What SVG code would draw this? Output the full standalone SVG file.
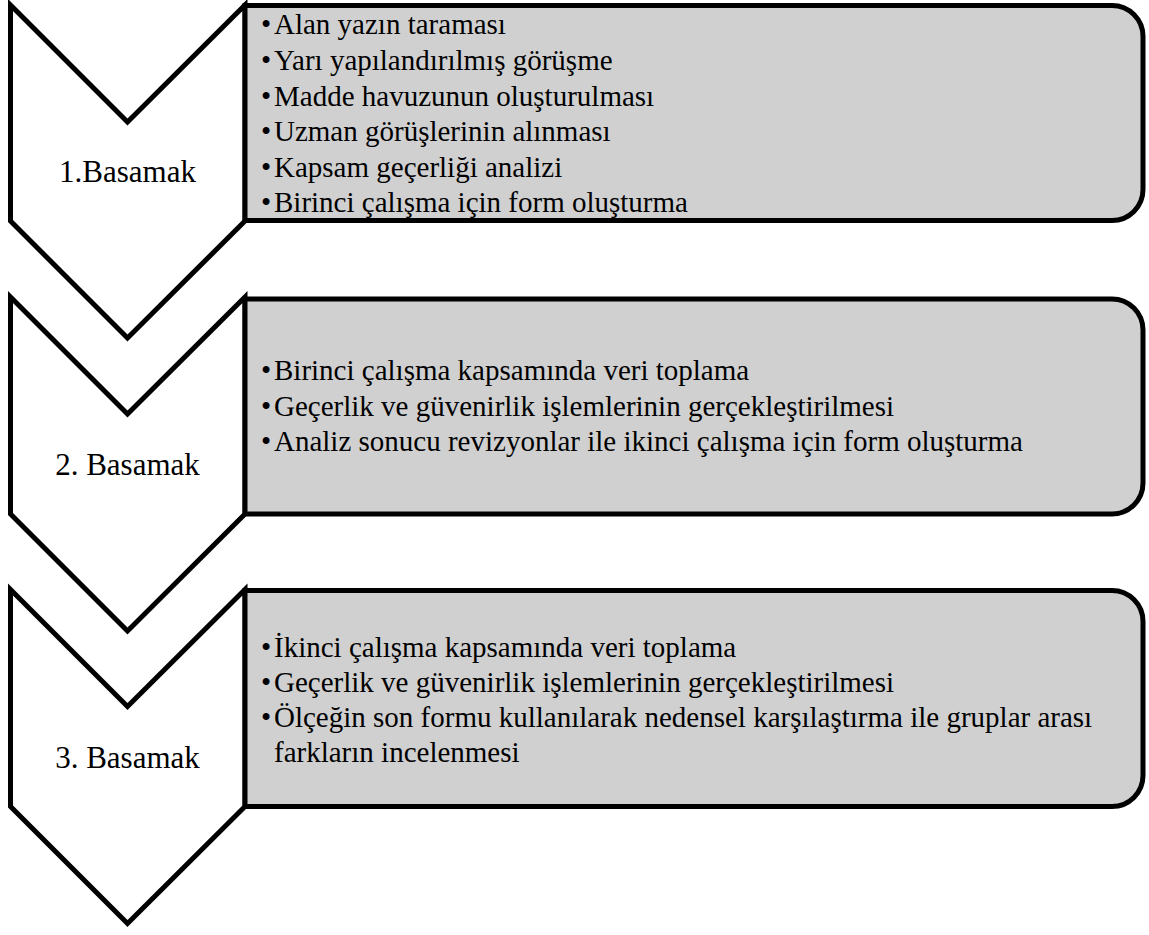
<svg xmlns="http://www.w3.org/2000/svg" width="1149" height="935" viewBox="0 0 1149 935">
<style>
.chev{fill:#ffffff;stroke:#000000;stroke-width:5;stroke-linejoin:miter}
.box{fill:#d0d0d0;stroke:#000000;stroke-width:5;stroke-linejoin:miter}
.lbl{font-family:'Liberation Serif','DejaVu Serif',serif;font-size:31px;fill:#000000;text-anchor:middle}
.txt{font-family:'Liberation Serif','DejaVu Serif',serif;font-size:29px;fill:#000000}
</style>
<rect width="1149" height="935" fill="#ffffff"/>
<g id="step1">
<polygon class="chev" points="10.5,5 127.5,122 245,5 245,221 127.5,338 10.5,221"/>
<path class="box" d="M245,5.5 H1112 A31,31 0 0 1 1143,36.5 V189.5 A31,31 0 0 1 1112,220.5 H245 Z"/>
<text class="lbl" x="127.5" y="182">1.Basamak</text>
<text class="txt"><tspan x="261" y="34">•</tspan><tspan x="274" y="34">Alan yazın taraması</tspan></text>
<text class="txt"><tspan x="261" y="70">•</tspan><tspan x="274" y="70">Yarı yapılandırılmış görüşme</tspan></text>
<text class="txt"><tspan x="261" y="106">•</tspan><tspan x="274" y="106">Madde havuzunun oluşturulması</tspan></text>
<text class="txt"><tspan x="261" y="141">•</tspan><tspan x="274" y="141">Uzman görüşlerinin alınması</tspan></text>
<text class="txt"><tspan x="261" y="177">•</tspan><tspan x="274" y="177">Kapsam geçerliği analizi</tspan></text>
<text class="txt"><tspan x="261" y="212">•</tspan><tspan x="274" y="212">Birinci çalışma için form oluşturma</tspan></text>
</g>
<g id="step2">
<polygon class="chev" points="10.5,297 127.5,414 245,297 245,514 127.5,631 10.5,514"/>
<path class="box" d="M245,299 H1112 A31,31 0 0 1 1143,330 V483 A31,31 0 0 1 1112,514 H245 Z"/>
<text class="lbl" x="127.5" y="475">2. Basamak</text>
<text class="txt"><tspan x="261" y="380">•</tspan><tspan x="274" y="380">Birinci çalışma kapsamında veri toplama</tspan></text>
<text class="txt"><tspan x="261" y="416">•</tspan><tspan x="274" y="416">Geçerlik ve güvenirlik işlemlerinin gerçekleştirilmesi</tspan></text>
<text class="txt"><tspan x="261" y="451">•</tspan><tspan x="274" y="451">Analiz sonucu revizyonlar ile ikinci çalışma için form oluşturma</tspan></text>
</g>
<g id="step3">
<polygon class="chev" points="10.5,589.5 127.5,706.5 245,589.5 245,806.5 127.5,923.5 10.5,806.5"/>
<path class="box" d="M245,590.5 H1112 A31,31 0 0 1 1143,621.5 V775.5 A31,31 0 0 1 1112,806.5 H245 Z"/>
<text class="lbl" x="127.5" y="768">3. Basamak</text>
<text class="txt"><tspan x="261" y="657">•</tspan><tspan x="274" y="657">İkinci çalışma kapsamında veri toplama</tspan></text>
<text class="txt"><tspan x="261" y="692">•</tspan><tspan x="274" y="692">Geçerlik ve güvenirlik işlemlerinin gerçekleştirilmesi</tspan></text>
<text class="txt"><tspan x="261" y="727">•</tspan><tspan x="274" y="727">Ölçeğin son formu kullanılarak nedensel karşılaştırma ile gruplar arası</tspan></text>
<text class="txt"><tspan x="274" y="762">farkların incelenmesi</tspan></text>
</g>
<g id="connectors"></g>
</svg>
